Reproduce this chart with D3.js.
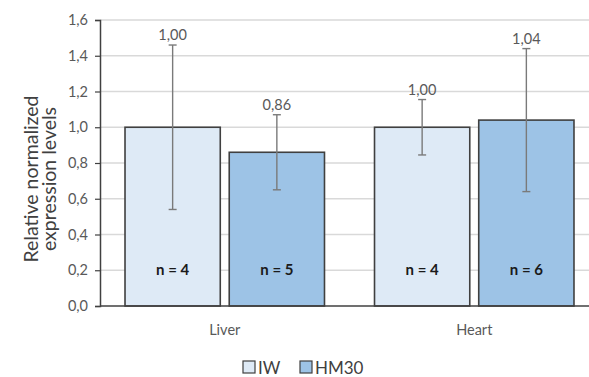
<!DOCTYPE html>
<html>
<head>
<meta charset="utf-8">
<script src="https://cdn.jsdelivr.net/npm/d3@7"></script>
<style>
  html, body { margin: 0; padding: 0; background: #fff; }
  svg { display: block; font-family: Lato, "Open Sans", sans-serif; }
</style>
</head>
<body>
<svg id="chart" width="589" height="377"></svg>
<script>
// Tissues on the x axis and the two diet groups
const tissues = ["Liver", "Heart"];
const groups = ["IW", "HM30"];
const groupColors = ["#deeaf6", "#9dc3e6"];

// Mean relative expression per tissue, one array per group
const iwValues = [1.00, 1.00];
const hm30Values = [0.86, 1.04];
// Error bar half-widths (SD)
const iwErrors = [0.46, 0.155];
const hm30Errors = [0.21, 0.40];
// Sample sizes
const iwN = [4, 4];
const hm30N = [5, 6];

const yTicks = [0, 0.2, 0.4, 0.6, 0.8, 1.0, 1.2, 1.4, 1.6];

const rows = [];
tissues.forEach((t, i) => {
  rows.push({ tissue: t, group: "IW", value: iwValues[i], err: iwErrors[i], n: iwN[i] });
  rows.push({ tissue: t, group: "HM30", value: hm30Values[i], err: hm30Errors[i], n: hm30N[i] });
});

const svg = d3.select("#chart");
const plotLeft = 100, plotRight = 599, plotTop = 20, plotBottom = 306;

const x0 = d3.scaleBand().domain(tissues).range([plotLeft, plotRight]).paddingInner(0).paddingOuter(0);
const x1 = d3.scaleBand().domain(groups).range([0, x0.bandwidth()]).paddingInner(0.086).paddingOuter(0.24);
const y = d3.scaleLinear().domain([0, 1.6]).range([plotBottom, plotTop]);
const color = d3.scaleOrdinal().domain(groups).range(groupColors);
const fmt = v => d3.format(".2f")(v).replace(".", ",");

// Horizontal gridlines
svg.append("g").selectAll("line").data(yTicks.filter(d => d > 0)).join("line")
  .attr("x1", plotLeft).attr("x2", 589)
  .attr("y1", d => y(d)).attr("y2", d => y(d))
  .attr("stroke", "#d9d9d9").attr("stroke-width", 1.3);

// Y axis
const yAxis = svg.append("g").attr("transform", `translate(${plotLeft},0)`)
  .call(d3.axisLeft(y).tickValues(yTicks).tickSize(5).tickPadding(7)
    .tickFormat(d => d3.format(".1f")(d).replace(".", ",")));
yAxis.attr("font-size", 14.5).attr("font-family", "Lato, sans-serif");
yAxis.select(".domain").attr("stroke", "#404040").attr("stroke-width", 1.5);
yAxis.selectAll(".tick line").attr("stroke", "#404040").attr("stroke-width", 1.2);
yAxis.selectAll(".tick text").attr("fill", "#595959");

// Y axis title
const title = svg.append("text")
  .attr("transform", `translate(47,${(plotTop + plotBottom) / 2 + 16}) rotate(-90)`)
  .attr("text-anchor", "middle").attr("fill", "#404040").attr("font-size", 19.5);
title.append("tspan").attr("x", 0).attr("dy", "-0.45em").text("Relative normalized");
title.append("tspan").attr("x", 0).attr("dy", "0.92em").text("expression levels");

// Bars
const bars = svg.append("g").selectAll("g").data(rows).join("g")
  .attr("transform", d => `translate(${x0(d.tissue) + x1(d.group)},0)`);

bars.append("rect")
  .attr("x", 0).attr("width", x1.bandwidth())
  .attr("y", d => y(d.value)).attr("height", d => y(0) - y(d.value))
  .attr("fill", d => color(d.group)).attr("stroke", "#404040").attr("stroke-width", 1.6);

// Error bars
const cx = x1.bandwidth() / 2;
bars.append("line")
  .attr("x1", cx).attr("x2", cx)
  .attr("y1", d => y(d.value + d.err)).attr("y2", d => y(d.value - d.err))
  .attr("stroke", "#7a7a7a").attr("stroke-width", 1.4);
bars.selectAll(".cap").data(d => [d.value + d.err, d.value - d.err]).join("line")
  .attr("class", "cap")
  .attr("x1", cx - 4).attr("x2", cx + 4)
  .attr("y1", v => y(v)).attr("y2", v => y(v))
  .attr("stroke", "#7a7a7a").attr("stroke-width", 1.4);

// Value labels above the error bars
bars.append("text")
  .attr("x", cx).attr("y", d => y(d.value + d.err) - 5)
  .attr("text-anchor", "middle").attr("fill", "#595959").attr("font-size", 14.5)
  .text(d => fmt(d.value));

// Sample size labels
bars.append("text")
  .attr("x", cx).attr("y", y(0.2) + 5)
  .attr("text-anchor", "middle").attr("fill", "#1a1a1a").attr("font-size", 15)
  .attr("font-weight", "bold")
  .text(d => `n = ${d.n}`);

// X axis baseline and category labels
svg.append("line").attr("x1", plotLeft).attr("x2", 589).attr("y1", plotBottom).attr("y2", plotBottom)
  .attr("stroke", "#404040").attr("stroke-width", 1.5);
svg.append("g").selectAll("text").data(tissues).join("text")
  .attr("x", d => x0(d) + x0.bandwidth() / 2).attr("y", 335)
  .attr("text-anchor", "middle").attr("fill", "#595959").attr("font-size", 14.5)
  .text(d => d);

// Legend
const legend = svg.append("g");
const legendPos = [243, 300];
groups.forEach((g, i) => {
  const lg = legend.append("g").attr("transform", `translate(${legendPos[i]},361)`);
  lg.append("rect").attr("x", 0).attr("y", 0).attr("width", 12).attr("height", 12)
    .attr("fill", color(g)).attr("stroke", "#404040").attr("stroke-width", 1.2);
  lg.append("text").attr("x", 15).attr("y", 12.5).attr("fill", "#404040").attr("font-size", 17)
    .text(g);
});
</script>
</body>
</html>
